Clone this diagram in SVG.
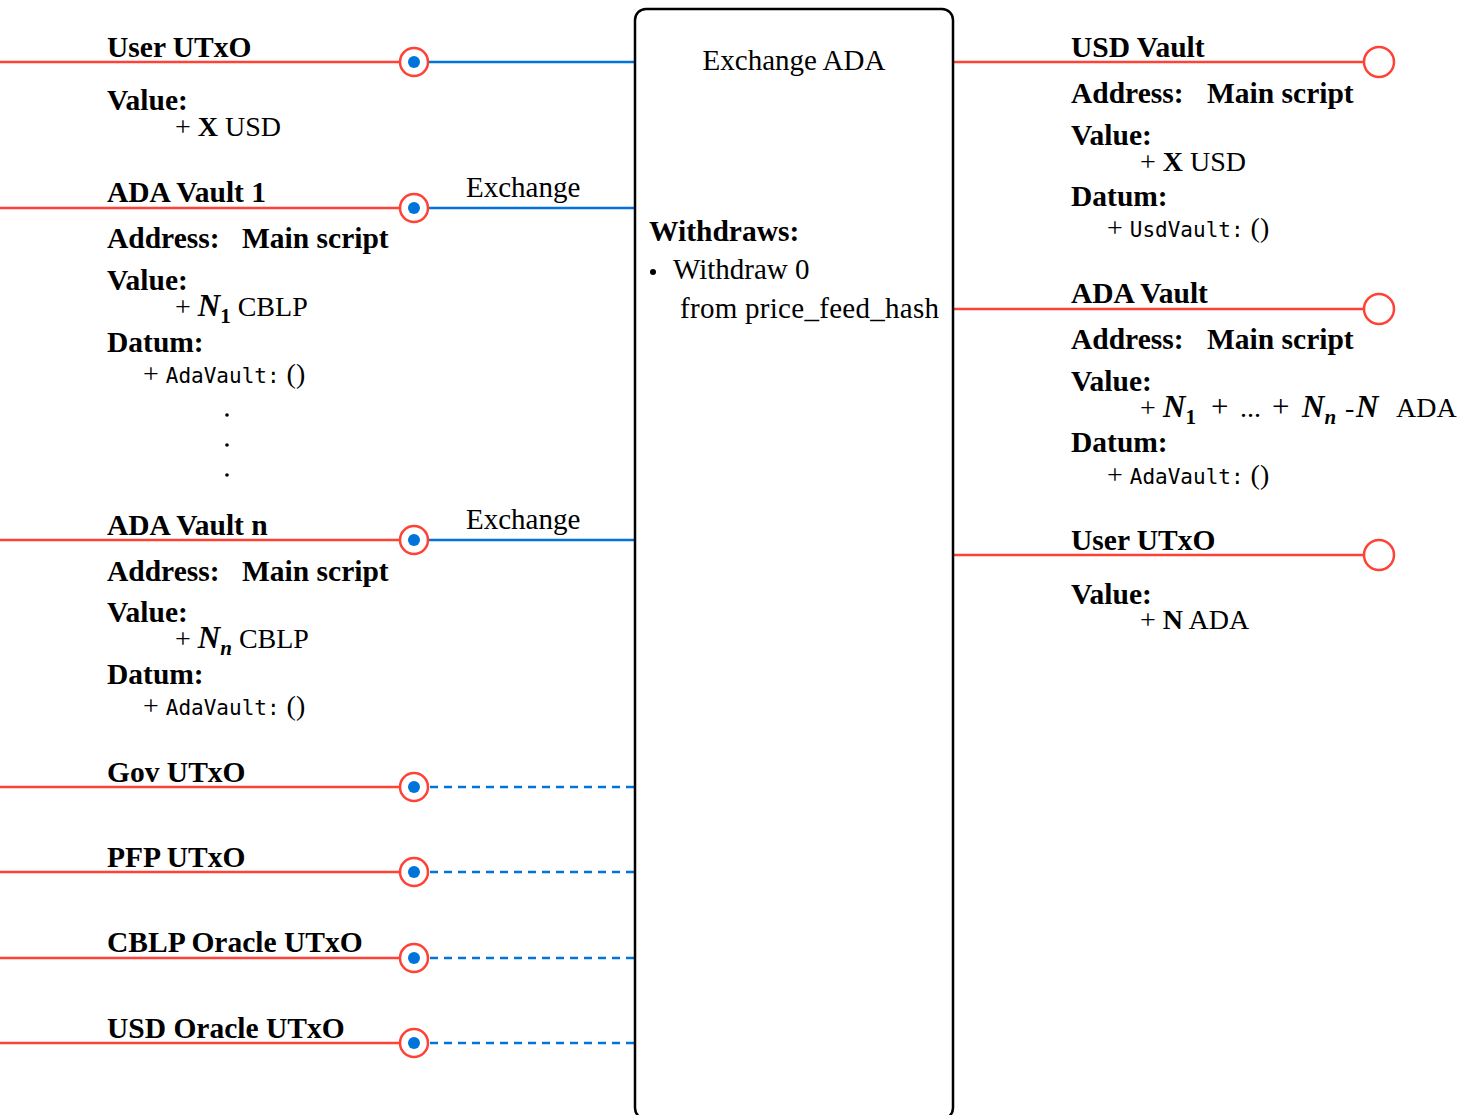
<svg xmlns="http://www.w3.org/2000/svg" width="1472" height="1115" viewBox="0 0 1472 1115">
<style>
text{font-family:"Liberation Serif","Times New Roman",serif;fill:#000}
.t{font-size:29.5px;font-weight:bold}
.r{font-size:29px}
.v{font-size:28px}
.m{font-family:"DejaVu Sans Mono",monospace;font-size:21px}
.b{font-weight:bold}
.i{font-style:italic;font-weight:bold}
.red{stroke:#ff4136;stroke-width:2.5;fill:none}
.blue{stroke:#0074d9;stroke-width:2.5;fill:none}
.dash{stroke:#0074d9;stroke-width:2.5;fill:none;stroke-dasharray:8 6}
.ring{stroke:#ff4136;stroke-width:2.5;fill:#fff}
.dot{fill:#0074d9}
</style>
<g id="connectors">
<line class="red" x1="0" y1="62" x2="400" y2="62"/><line class="blue" x1="428" y1="62" x2="634" y2="62"/>
<line class="red" x1="0" y1="208" x2="400" y2="208"/><line class="blue" x1="428" y1="208" x2="634" y2="208"/>
<line class="red" x1="0" y1="540" x2="400" y2="540"/><line class="blue" x1="428" y1="540" x2="634" y2="540"/>
<line class="red" x1="0" y1="787" x2="400" y2="787"/><line class="dash" x1="430" y1="787" x2="634" y2="787"/>
<line class="red" x1="0" y1="872" x2="400" y2="872"/><line class="dash" x1="430" y1="872" x2="634" y2="872"/>
<line class="red" x1="0" y1="958" x2="400" y2="958"/><line class="dash" x1="430" y1="958" x2="634" y2="958"/>
<line class="red" x1="0" y1="1043" x2="400" y2="1043"/><line class="dash" x1="430" y1="1043" x2="634" y2="1043"/>
<line class="red" x1="954" y1="62" x2="1364" y2="62"/>
<line class="red" x1="954" y1="309" x2="1364" y2="309"/>
<line class="red" x1="954" y1="555" x2="1364" y2="555"/>
<text class="r" x="466" y="197">Exchange</text>
<text class="r" x="466" y="529">Exchange</text>
</g>
<g id="in-user">
<circle class="ring" cx="414" cy="62" r="14"/><circle class="dot" cx="414" cy="62" r="6"/>
<text class="t" x="107" y="57">User UTxO</text>
<text class="t" x="107" y="110">Value:</text>
<text class="v" x="175" y="136">+ <tspan class="b">X</tspan> USD</text>
</g>
<g id="in-ada1">
<circle class="ring" cx="414" cy="208" r="14"/><circle class="dot" cx="414" cy="208" r="6"/>
<text class="t" x="107" y="202">ADA Vault 1</text>
<text class="t" x="107" y="248">Address:<tspan x="242">Main script</tspan></text>
<text class="t" x="107" y="290">Value:</text>
<text class="v" x="175" y="316">+ <tspan class="i" font-size="31">N</tspan><tspan class="b" font-size="21" dy="7">1</tspan><tspan dy="-7"> CBLP</tspan></text>
<text class="t" x="107" y="352">Datum:</text>
<text class="v" x="143" y="383">+ <tspan class="m">AdaVault:</tspan> ()</text>
<circle cx="227" cy="415" r="1.8"/><circle cx="227" cy="445" r="1.8"/><circle cx="227" cy="475" r="1.8"/>
</g>
<g id="in-adan">
<circle class="ring" cx="414" cy="540" r="14"/><circle class="dot" cx="414" cy="540" r="6"/>
<text class="t" x="107" y="535">ADA Vault n</text>
<text class="t" x="107" y="581">Address:<tspan x="242">Main script</tspan></text>
<text class="t" x="107" y="622">Value:</text>
<text class="v" x="175" y="648">+ <tspan class="i" font-size="31">N</tspan><tspan class="i" font-size="21" dy="7">n</tspan><tspan dy="-7"> CBLP</tspan></text>
<text class="t" x="107" y="684">Datum:</text>
<text class="v" x="143" y="715">+ <tspan class="m">AdaVault:</tspan> ()</text>
</g>
<g id="in-gov">
<circle class="ring" cx="414" cy="787" r="14"/><circle class="dot" cx="414" cy="787" r="6"/>
<text class="t" x="107" y="782">Gov UTxO</text>
</g>
<g id="in-pfp">
<circle class="ring" cx="414" cy="872" r="14"/><circle class="dot" cx="414" cy="872" r="6"/>
<text class="t" x="107" y="867">PFP UTxO</text>
</g>
<g id="in-cblp">
<circle class="ring" cx="414" cy="958" r="14"/><circle class="dot" cx="414" cy="958" r="6"/>
<text class="t" x="107" y="952">CBLP Oracle UTxO</text>
</g>
<g id="in-usd">
<circle class="ring" cx="414" cy="1043" r="14"/><circle class="dot" cx="414" cy="1043" r="6"/>
<text class="t" x="107" y="1038">USD Oracle UTxO</text>
</g>
<g id="tx">
<rect x="635" y="9" width="318" height="1110" rx="11" fill="#fff" stroke="#000" stroke-width="2.5"/>
<text class="r" x="794" y="70" text-anchor="middle">Exchange ADA</text>
<text class="t" x="649" y="241">Withdraws:</text>
<circle cx="653" cy="272" r="3"/>
<text class="r" x="673" y="279">Withdraw 0</text>
<text class="r" x="680" y="318" textLength="259">from price_feed_hash</text>
</g>
<g id="out-usd">
<circle class="ring" cx="1379" cy="62" r="15"/>
<text class="t" x="1071" y="57">USD Vault</text>
<text class="t" x="1071" y="103">Address:<tspan x="1207">Main script</tspan></text>
<text class="t" x="1071" y="145">Value:</text>
<text class="v" x="1140" y="171">+ <tspan class="b">X</tspan> USD</text>
<text class="t" x="1071" y="206">Datum:</text>
<text class="v" x="1107" y="237">+ <tspan class="m">UsdVault:</tspan> ()</text>
</g>
<g id="out-ada">
<circle class="ring" cx="1379" cy="309" r="15"/>
<text class="t" x="1071" y="303">ADA Vault</text>
<text class="t" x="1071" y="349">Address:<tspan x="1207">Main script</tspan></text>
<text class="t" x="1071" y="391">Value:</text>
<text class="v" x="1140" y="417">+ <tspan class="i" font-size="31" x="1163">N</tspan><tspan class="b" font-size="21" dy="7">1</tspan><tspan dy="-7" x="1211" font-size="31">+</tspan><tspan x="1240">...</tspan><tspan x="1272" font-size="31">+</tspan><tspan class="i" font-size="31" x="1302">N</tspan><tspan class="i" font-size="21" dy="7">n</tspan><tspan dy="-7" x="1345">-</tspan><tspan class="i" font-size="31" x="1356">N</tspan><tspan x="1396">ADA</tspan></text>
<text class="t" x="1071" y="452">Datum:</text>
<text class="v" x="1107" y="484">+ <tspan class="m">AdaVault:</tspan> ()</text>
</g>
<g id="out-user">
<circle class="ring" cx="1379" cy="555" r="15"/>
<text class="t" x="1071" y="550">User UTxO</text>
<text class="t" x="1071" y="604">Value:</text>
<text class="v" x="1140" y="629">+ <tspan class="b">N</tspan> ADA</text>
</g>
</svg>
